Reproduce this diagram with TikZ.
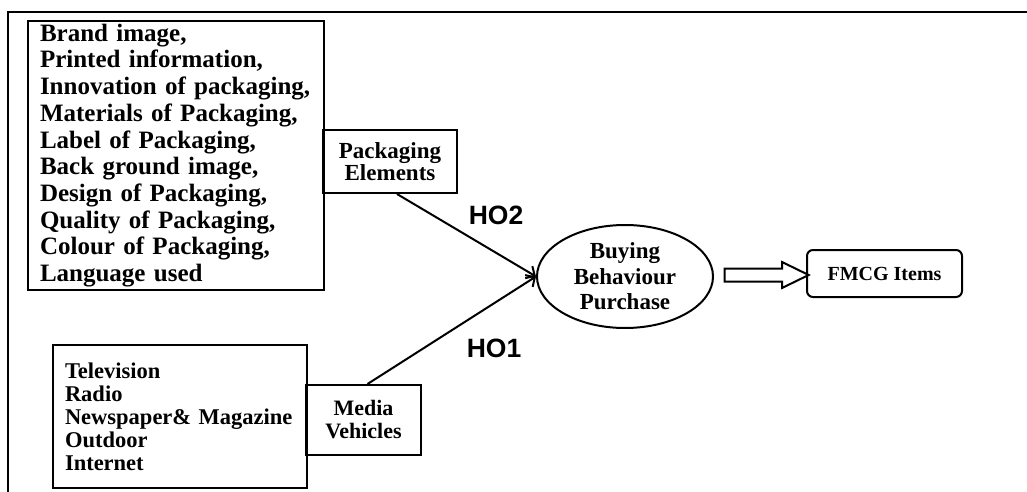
\documentclass[tikz,border=0pt]{standalone}
\usepackage{fontspec}
\setmainfont{Liberation Serif}
\newfontfamily\hofont{Liberation Sans}
\usetikzlibrary{shapes.geometric,shapes.arrows,arrows.meta,calc}

\begin{document}
\begin{tikzpicture}[x=1pt,y=-1pt,line width=2pt,
	listbox/.style={draw,rectangle,anchor=north west,align=left,inner xsep=12pt,inner ysep=0pt},
	namebox/.style={draw,rectangle,align=center,inner sep=0pt},
	holabel/.style={font=\hofont\bfseries\fontsize{26.5}{26.5}\selectfont},
	link/.style={-{Straight Barb[length=7pt,width=14pt]}}]
	\useasboundingbox (0,0) rectangle (1027,492);
	\draw (8,492) -- (8,12) -- (1027,12);
	% left side
	\node[listbox,minimum width=296pt,minimum height=269pt,text width=272pt,font=\bfseries\fontsize{25}{26.7}\selectfont] (packlist) at (27,20) {Brand image,\\Printed information,\\Innovation of packaging,\\Materials of Packaging,\\Label of Packaging,\\Back ground image,\\Design of Packaging,\\Quality of Packaging,\\Colour of Packaging,\\Language used};
	\node[namebox,minimum width=134pt,minimum height=63pt,font=\bfseries\fontsize{23}{22}\selectfont] (pack) at (390,161.5) {Packaging\\Elements};
	\node[listbox,minimum width=254pt,minimum height=143pt,text width=230pt,font=\bfseries\fontsize{22.5}{23}\selectfont] (medialist) at (52,344) {Television\\Radio\\Newspaper\& Magazine\\Outdoor\\Internet};
	\node[namebox,minimum width=115pt,minimum height=70pt,font=\bfseries\fontsize{22}{23}\selectfont] (media) at (363.5,420) {Media\\Vehicles};
	% right side
	\node[draw,ellipse,minimum width=176pt,minimum height=103pt,inner sep=0pt,align=center,font=\bfseries\fontsize{23}{25.5}\selectfont] (buy) at (625,276.5) {Buying\\Behaviour\\Purchase};
	\node[draw,rectangle,rounded corners=6pt,minimum width=155pt,minimum height=47pt,font=\bfseries\fontsize{20}{20}\selectfont] (fmcg) at (884.5,273.5) {FMCG Items};
	\node[draw,single arrow,single arrow head extend=6.5pt,single arrow tip angle=52,minimum height=84pt,inner xsep=0pt,inner ysep=5.5pt] (flow) at ($(buy.east)!0.5!(fmcg.west)$) {};
	\draw[link] ($(pack.south)+(7,0)$) -- (buy.west);
	\draw[link] ($(media.north)+(4,0)$) -- (buy.west);
	\node[holabel] (hotwo) at (496,215) {HO2};
	\node[holabel] (hoone) at (494,348) {HO1};
\end{tikzpicture}
\end{document}
